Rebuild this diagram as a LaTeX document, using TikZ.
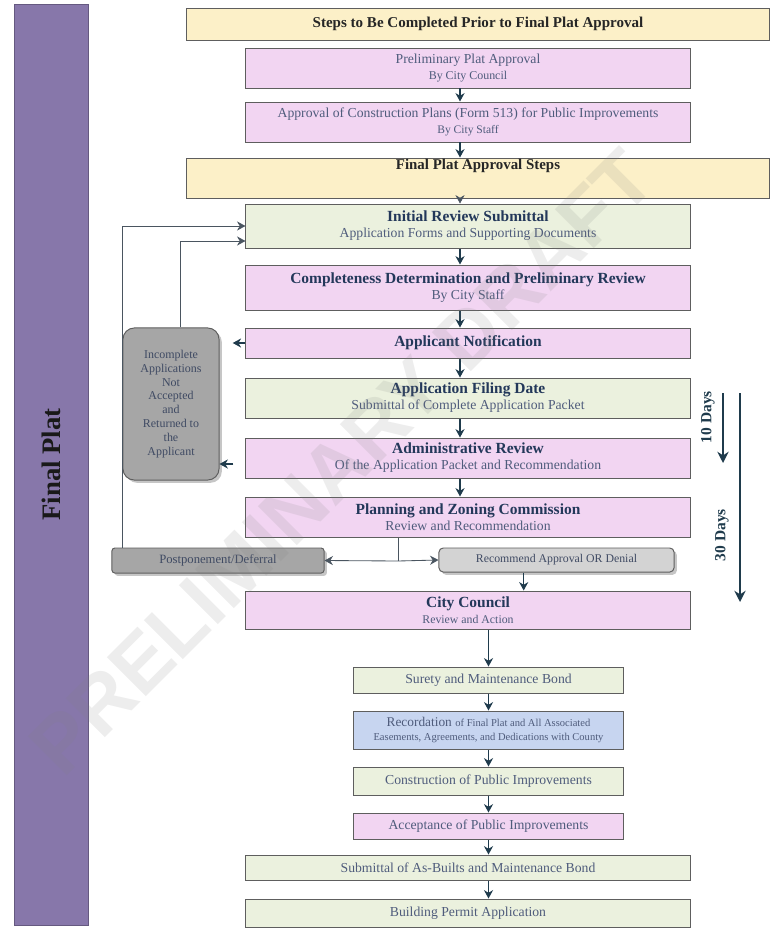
\documentclass[tikz,border=0pt]{standalone}
\usepackage{fontspec}
\setmainfont{Liberation Serif}
\newfontfamily\marksans{Liberation Sans}
\usetikzlibrary{arrows.meta,shadows}

\definecolor{pinkfill}{HTML}{F2D5F2}
\definecolor{greenfill}{HTML}{EBF1DE}
\definecolor{yellowfill}{HTML}{FCF0C8}
\definecolor{bluefill}{HTML}{C7D5F0}
\definecolor{grayfill}{HTML}{A6A6A6}
\definecolor{lightgrayfill}{HTML}{D3D3D3}
\definecolor{barpurple}{HTML}{8777AA}
\definecolor{boxline}{HTML}{5E5E5E}
\definecolor{titleblue}{HTML}{23385A}
\definecolor{noteblue}{HTML}{4F5C7C}
\definecolor{arrowcol}{HTML}{1F3B4C}
\definecolor{loopcol}{HTML}{4A5560}

\newcommand{\boxtitle}[1]{{\fontsize{11}{13}\selectfont\bfseries\color{titleblue}#1}}
\newcommand{\boxnote}[1]{{\fontsize{8.4}{10}\selectfont\color{noteblue}#1}}

\begin{document}
\begin{tikzpicture}[x=0.025cm, y=-0.025cm,
        stepbox/.style={rectangle, draw=boxline, line width=0.7pt, inner sep=1pt, align=center, minimum width=11.1cm, font=\fontsize{9.75}{11.5}\selectfont, text=noteblue},
        pinkbox/.style={stepbox, fill=pinkfill},
        greenbox/.style={stepbox, fill=greenfill},
        bluebox/.style={stepbox, fill=bluefill},
        yellowbox/.style={stepbox, fill=yellowfill, minimum width=14.55cm, text=black!85},
        smallbox/.style={minimum width=6.725cm},
        sidebox/.style={rectangle, draw=boxline, line width=0.7pt, align=center, inner sep=1pt, text=noteblue!80!black, drop shadow={shadow xshift=0.07cm, shadow yshift=-0.07cm, opacity=0.45}},
        bar/.style={rectangle, draw=barpurple!75!black, fill=barpurple, rotate=90, minimum width=23.025cm, minimum height=1.85cm, font=\fontsize{19}{21}\selectfont\bfseries, text=black!90},
        arr/.style={-{Stealth[length=6pt,width=6.5pt]}, draw=arrowcol, line width=0.8pt},
        loopline/.style={arr, draw=loopcol, line width=0.6pt},
        dayarr/.style={-{Stealth[length=8pt,width=8pt]}, draw=arrowcol, line width=1.4pt},
        daylabel/.style={rotate=90, font=\fontsize{11}{13}\selectfont\bfseries, text=arrowcol}
    ]
        \useasboundingbox (0,0) rectangle (770,940);

        % side bar
        \node[bar] (side) at (51,464.5) {Final Plat};

        % steps before final plat
        \node[yellowbox, minimum height=0.8cm, font=\fontsize{10.7}{12}\selectfont\bfseries] (prior) at (478,24) {Steps to Be Completed Prior to Final Plat Approval};
        \node[pinkbox, minimum height=1.0cm] (prelim) at (468,68) {Preliminary Plat Approval\\
        {\fontsize{8.5}{10}\selectfont By City Council}};
        \node[pinkbox, minimum height=1.0cm] (plans) at (468,122) {Approval of Construction Plans (Form 513) for Public Improvements\\
        {\fontsize{8.2}{10}\selectfont By City Staff}};

        % final plat steps
        \node[yellowbox, minimum height=1.0cm, text height=0.2cm, text depth=0.6cm, font=\fontsize{10.6}{12}\selectfont\bfseries] (steps) at (478,178) {Final Plat Approval Steps};
        \node[greenbox, minimum height=1.1cm] (initial) at (468,226) {\boxtitle{Initial Review Submittal}\\
        Application Forms and Supporting Documents};
        \node[pinkbox, minimum height=1.125cm] (complete) at (468,287.5) {\boxtitle{Completeness Determination and Preliminary Review}\\
        By City Staff};
        \node[pinkbox, minimum height=0.75cm] (notify) at (468,343) {\boxtitle{Applicant Notification}};
        \node[greenbox, minimum height=1.0cm] (filing) at (468,398) {\boxtitle{Application Filing Date}\\
        Submittal of Complete Application Packet};
        \node[pinkbox, minimum height=1.0cm] (admin) at (468,458) {\boxtitle{Administrative Review}\\
        Of the Application Packet and Recommendation};
        \node[pinkbox, minimum height=1.0cm] (pz) at (468,517) {\boxtitle{Planning and Zoning Commission}\\
        Review and Recommendation};
        \node[sidebox, fill=grayfill, rounded corners=8pt, minimum width=2.4cm, minimum height=3.8cm, font=\fontsize{8.5}{9.8}\selectfont] (incomplete) at (171,404) {Incomplete\\ Applications\\ Not\\ Accepted\\ and\\ Returned to\\ the\\ Applicant};
        \node[sidebox, fill=grayfill, rounded corners=2pt, minimum width=5.3cm, minimum height=0.625cm, font=\fontsize{9}{11}\selectfont] (postpone) at (218,560.5) {Postponement/Deferral};
        \node[sidebox, fill=lightgrayfill, rounded corners=3pt, minimum width=5.875cm, minimum height=0.6cm, font=\fontsize{8.4}{10}\selectfont] (recommend) at (556.5,560) {Recommend Approval OR Denial};
        \node[pinkbox, minimum height=0.95cm] (city) at (468,610) {\boxtitle{City Council}\\
        \boxnote{Review and Action}};

        % after approval
        \node[greenbox, smallbox, minimum height=0.65cm] (surety) at (488.5,680) {Surety and Maintenance Bond};
        \node[bluebox, smallbox, minimum height=0.95cm] (record) at (488.5,730) {{\fontsize{9.5}{11}\selectfont Recordation} {\fontsize{7.5}{9}\selectfont of Final Plat and All Associated}\\[-1pt]
        {\fontsize{7.5}{9}\selectfont Easements, Agreements, and Dedications with County}};
        \node[greenbox, smallbox, minimum height=0.7cm] (build) at (488.5,781) {Construction of Public Improvements};
        \node[pinkbox, smallbox, minimum height=0.65cm] (accept) at (488.5,826) {Acceptance of Public Improvements};
        \node[greenbox, minimum height=0.625cm] (asbuilt) at (468,867.5) {Submittal of As-Builts and Maintenance Bond};
        \node[greenbox, minimum height=0.7cm] (permit) at (468,913) {Building Permit Application};

        % main chain
        \coordinate (spine) at (460,0);
        \draw[arr] (prelim.south -| spine) -- (plans.north -| spine);
        \draw[arr] (plans.south -| spine) -- (steps.north -| spine);
        \draw[arr, draw=loopcol, line width=0.5pt] (steps.south -| spine) -- (initial.north -| spine);
        \draw[arr] (initial.south -| spine) -- (complete.north -| spine);
        \draw[arr] (complete.south -| spine) -- (notify.north -| spine);
        \draw[arr] (notify.south -| spine) -- (filing.north -| spine);
        \draw[arr] (filing.south -| spine) -- (admin.north -| spine);
        \draw[arr] (admin.south -| spine) -- (pz.north -| spine);

        % returns and loops
        \draw[arr, shorten >=0.33cm] (notify.west) -- (notify.west -| incomplete.east);
        \draw[arr, shorten <=0.3cm] ([yshift=-0.15cm]admin.west) -- ([yshift=-0.15cm]admin.west -| incomplete.east);
        \draw[loopline] ([xshift=0.225cm]incomplete.north) |- ([yshift=-0.375cm]initial.west);
        \draw[loopline] (postpone.north -| incomplete.west) |- (initial.west);

        % commission outcome
        \coordinate (split) at (398,561);
        \draw[loopline, -] (pz.south -| split) -- (split);
        \draw[loopline] (split) -- (postpone.east);
        \draw[loopline] (split) -- (recommend.west);
        \draw[arr] ([xshift=-0.82cm]recommend.south) -- ([xshift=-0.82cm]recommend.south |- city.north);

        % lower chain
        \draw[arr] (city.south -| surety.north) -- (surety.north);
        \draw[arr] (surety) -- (record);
        \draw[arr] (record) -- (build);
        \draw[arr] (build) -- (accept);
        \draw[arr] (accept.south) -- (asbuilt.north -| accept.south);
        \draw[arr] (asbuilt.south -| accept.south) -- (permit.north -| accept.south);

        % time frames
        \coordinate (tentop) at (723,393);
        \coordinate (tenend) at (723,463);
        \coordinate (thirtytop) at (740,393);
        \coordinate (thirtyend) at (740,602);
        \draw[dayarr] (tentop) -- (tenend);
        \draw[dayarr] (thirtytop) -- (thirtyend);
        \node[daylabel] (ten) at (708,417) {10 Days};
        \node[daylabel] (thirty) at (722,535) {30 Days};

        % watermark
        \node[rotate=45, text=gray, opacity=0.14, font=\marksans\bfseries\fontsize{57}{57}\selectfont] (draft) at (342,462) {PRELIMINARY DRAFT};
    \end{tikzpicture}
\end{document}
